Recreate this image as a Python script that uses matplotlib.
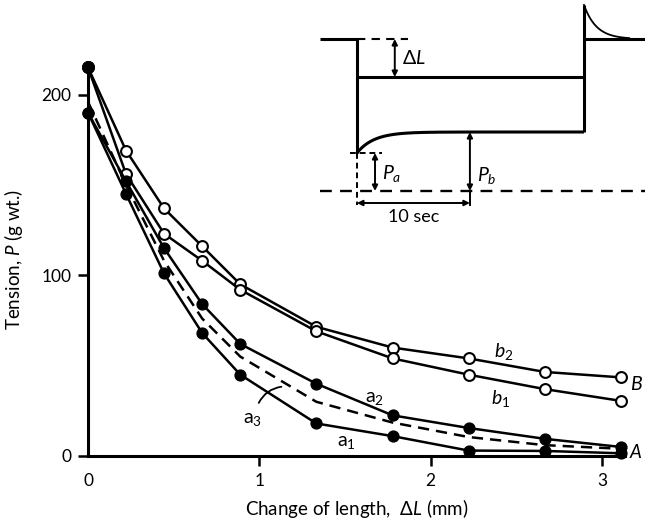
import numpy as np
import matplotlib.pyplot as plt

plt.rcParams['font.family'] = ['Lato', 'DejaVu Sans']
plt.rcParams['mathtext.fontset'] = 'custom'
plt.rcParams['mathtext.rm'] = 'Lato'
plt.rcParams['mathtext.it'] = 'Lato:italic'

# ---- data ----
dL = [0, 0.222, 0.444, 0.667, 0.889, 1.333, 1.778, 2.222, 2.667, 3.111]

b2 = [215, 169, 137, 116, 95, 71.5, 60, 54, 46.5, 43.5]
b1 = [215, 156, 123, 108, 92, 69, 54, 45, 37, 30.5]
a2 = [190, 152, 115, 84, 62, 40, 22.5, 15.5, 9.5, 5]
a1 = [190, 145, 101, 68, 45, 18, 11, 3, 2.8, 1.5]
a3 = [196, 150, 108, 76, 55, 30, 18.5, 10.5, 6, 4]

xticks = [0, 1, 2, 3]
yticks = [0, 100, 200]

fig = plt.figure(figsize=(6.45, 5.28), dpi=100)
ax = fig.add_axes([88/645, 72/528, 537/645, 394/528])

lw = 1.8
ms = 7.8
ax.plot(dL, b2, '-o', color='black', lw=lw, ms=ms, mfc='white', mew=1.5, clip_on=False, zorder=3)
ax.plot(dL, b1, '-o', color='black', lw=lw, ms=ms, mfc='white', mew=1.5, clip_on=False, zorder=3)
ax.plot(dL, a2, '-o', color='black', lw=lw, ms=ms, clip_on=False, zorder=3)
ax.plot(dL, a1, '-o', color='black', lw=lw, ms=ms, clip_on=False, zorder=3)
ax.plot(dL, a3, '--', color='black', lw=lw, dashes=(4.5, 2.8), clip_on=False, zorder=2)
# shared start point drawn filled
ax.plot([dL[0]], [b2[0]], 'o', color='black', ms=ms, clip_on=False, zorder=4)

ax.set_xlim(0, 3.135)
ax.set_ylim(0, 218)
for s in ['top', 'right']:
    ax.spines[s].set_visible(False)
for s in ['left', 'bottom']:
    ax.spines[s].set_linewidth(2.2)
ax.set_xticks(xticks)
ax.set_yticks(yticks)
ax.tick_params(width=1.8, length=7, labelsize=12.5, direction='out', pad=5)
ax.xaxis.majorTicks[0].tick1line.set_visible(False)

ax.set_xlabel('Change of length,  $\\Delta L$ (mm)', fontsize=13.5, labelpad=6)
ax.set_ylabel('Tension, $P$ (g wt.)', fontsize=13.5, labelpad=12)

# curve labels
ax.text(2.43, 58, '$b_2$', fontsize=14, ha='center', va='center')
ax.text(2.41, 32, '$b_1$', fontsize=14, ha='center', va='center')
ax.text(1.67, 32, '$\\mathrm{a}_2$', fontsize=14, ha='center', va='center')
ax.text(1.51, 7.5, '$\\mathrm{a}_1$', fontsize=14, ha='center', va='center')
ax.text(0.96, 20, '$\\mathrm{a}_3$', fontsize=14, ha='center', va='center')
ax.annotate('', xy=(1.145, 38.5), xytext=(0.99, 28),
            arrowprops=dict(arrowstyle='-', lw=1.3, color='black',
                            connectionstyle='arc3,rad=-0.3'))
ax.text(3.165, 40, '$B$', fontsize=14, ha='left', va='center', clip_on=False)
ax.text(3.16, 2, '$A$', fontsize=13.5, ha='left', va='center', clip_on=False)

# ---- inset: schematic of the length step and tension record ----
# time in seconds, vertical level in inset units (downwards)
t_left, t_right = -3.27, 25.5
t_release = 20.1
t_10 = 10.0
len_hi, len_lo = 39, 77
spike_top = 5
tens_a, tens_b, tens_zero = 153, 132, 191
arrow_row = 203

ins = fig.add_axes([320/645, (528-225)/528, 325/645, 225/528])
ins.set_xlim(t_left, t_right)
ins.set_ylim(225, 0)
ins.axis('off')

k = dict(color='black', lw=2.2, solid_capstyle='butt')
# length record
ins.plot([t_left, 0, 0], [len_hi, len_hi, tens_a], **k)
ins.plot([0, t_release], [len_lo, len_lo], **k)
ins.plot([t_release, t_release], [spike_top, tens_b], **k)
ins.plot([t_release, t_right], [len_hi, len_hi], **k)
ins.plot([0, 4.5], [len_hi, len_hi], '--', color='black', lw=1.5, dashes=(4, 3))
tt = np.linspace(t_release, t_release + 4, 60)
ins.plot(tt, len_hi - (len_hi - spike_top) * np.exp(-(tt - t_release) / 1.1),
         color='black', lw=1.3)
# tension record
tt = np.linspace(0, t_release, 200)
ins.plot(tt, tens_b + (tens_a - tens_b) * np.exp(-tt / 1.5), **k)
# baseline and helper lines
ins.plot([t_left, t_right], [tens_zero, tens_zero], '--', color='black', lw=1.7, dashes=(5, 3.5))
ins.plot([-0.6, 2.2], [tens_a, tens_a], '--', color='black', lw=1.4, dashes=(3, 2))
ins.plot([0, 0], [tens_a, arrow_row + 2], '--', color='black', lw=1.4, dashes=(3, 2))
ins.plot([t_10, t_10], [tens_zero, arrow_row + 2], color='black', lw=1.4)

ap = dict(arrowstyle='<|-|>', lw=1.4, color='black', mutation_scale=8, shrinkA=0, shrinkB=0)
ins.annotate('', xy=(3.35, len_hi), xytext=(3.35, len_lo), arrowprops=ap)
ins.annotate('', xy=(1.6, tens_a), xytext=(1.6, tens_zero), arrowprops=ap)
ins.annotate('', xy=(t_10, tens_b), xytext=(t_10, tens_zero), arrowprops=ap)
ins.annotate('', xy=(0, arrow_row), xytext=(t_10, arrow_row), arrowprops=ap)

ins.text(4.0, 58, '$\\Delta L$', fontsize=14, ha='left', va='center')
ins.text(2.2, 173, '$P_a$', fontsize=14, ha='left', va='center')
ins.text(10.6, 175, '$P_b$', fontsize=14, ha='left', va='center')
ins.text(5.0, 217, '10 sec', fontsize=13, ha='center', va='center')

fig.savefig('out.png', dpi=100)
